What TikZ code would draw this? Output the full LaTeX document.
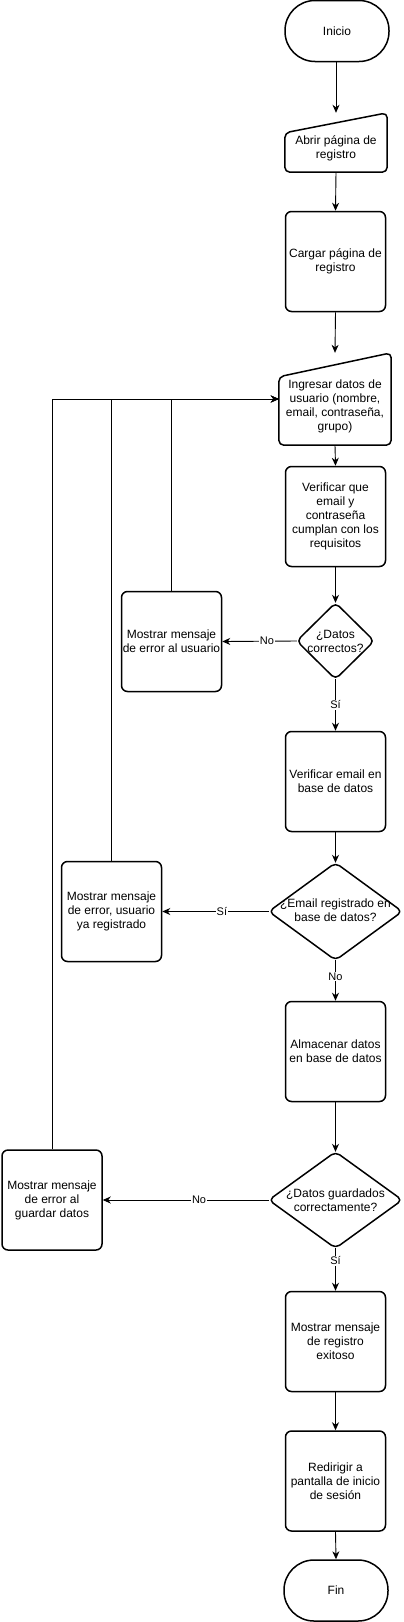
\documentclass[tikz,border=0pt]{standalone}
\usepackage{fontspec}
\setmainfont{Liberation Sans}
\usetikzlibrary{arrows.meta}
\begin{document}
\begin{tikzpicture}[x=1pt,y=-1pt,
  txt/.style={font=\fontsize{12}{14}\selectfont, align=center},
  box/.style={txt, draw, line width=1.5pt, rounded corners=6pt, minimum width=100pt, minimum height=100pt, inner sep=0pt},
  term/.style={txt, draw, line width=1.5pt, rounded corners=30pt, minimum width=104pt, minimum height=61pt, inner sep=0pt},
  holder/.style={txt, inner sep=0pt},
  shapeline/.style={line width=1.5pt, line join=round},
  arr/.style={line width=0.9pt, -{Stealth[length=8pt,width=7pt,inset=2.5pt]}},
  elabel/.style={font=\fontsize{11}{12}\selectfont, fill=white, inner sep=1pt}
]
\useasboundingbox (0,0) rectangle (404,1622);

% main column
\node[term] (ini) at (337,31) {Inicio};

\node[holder, minimum width=102pt, minimum height=59pt] (abrir) at (336,142.5) {};
\draw[shapeline, rounded corners=5pt] ([yshift=-20pt]abrir.north west) -- (abrir.north east) -- (abrir.south east) -- (abrir.south west) -- cycle;
\node[holder] (abrirT) at (336,148.5) {Abrir página de\\registro};

\node[box] (cargar) at (335.5,261.5) {Cargar página de\\registro};

\node[holder, minimum width=112pt, minimum height=92pt] (ing) at (335,399) {};
\draw[shapeline, rounded corners=5pt] ([yshift=-24pt]ing.north west) -- (ing.north east) -- (ing.south east) -- (ing.south west) -- cycle;
\node[holder] (ingT) at (335,406) {Ingresar datos de\\usuario (nombre,\\email, contraseña,\\grupo)};

\node[box] (verif) at (335.5,516.5) {Verificar que\\email y\\contraseña\\cumplan con los\\requisitos};

\node[holder, minimum width=77pt, minimum height=76pt] (d1) at (335.5,641) {};
\draw[shapeline, rounded corners=5pt] (d1.north) -- (d1.east) -- (d1.south) -- (d1.west) -- cycle;
\node[holder] (d1T) at (335.5,641) {¿Datos\\correctos?};

\node[box] (err1) at (171.5,641.5) {Mostrar mensaje\\de error al usuario};

\node[box] (vemail) at (335.5,781.5) {Verificar email en\\base de datos};

\node[holder, minimum width=133pt, minimum height=97pt] (d2) at (335.5,911.5) {};
\draw[shapeline, rounded corners=5pt] (d2.north) -- (d2.east) -- (d2.south) -- (d2.west) -- cycle;
\node[holder] (d2T) at (335.5,910.5) {¿Email registrado en\\base de datos?};

\node[box] (err2) at (111.5,911.5) {Mostrar mensaje\\de error, usuario\\ya registrado};

\node[box] (alm) at (335.5,1051.5) {Almacenar datos\\en base de datos};

\node[holder, minimum width=133pt, minimum height=96pt] (d3) at (335.5,1200) {};
\draw[shapeline, rounded corners=5pt] (d3.north) -- (d3.east) -- (d3.south) -- (d3.west) -- cycle;
\node[holder] (d3T) at (335.5,1200) {¿Datos guardados\\correctamente?};

\node[box] (err3) at (52,1200) {Mostrar mensaje\\de error al\\guardar datos};

\node[box] (exito) at (335.5,1341.5) {Mostrar mensaje\\de registro\\exitoso};

\node[box] (redir) at (335.5,1481) {Redirigir a\\pantalla de inicio\\de sesión};

\node[term] (fin) at (336,1590.5) {Fin};

% connectors
\draw[arr] (ini.south -| abrir.north) -- (abrir.north);
\draw[arr] (abrir.south) -- (cargar.north);
\draw[arr] (cargar.south) -- (ing.north);
\draw[arr] (ing.south) -- (verif.north);
\draw[arr] (verif.south) -- (d1.north);
\draw[arr] (d1.west) -- node[elabel, pos=0.4] {No} (err1.east);
\draw[arr] (d1.south) -- node[elabel, pos=0.5] {Sí} (vemail.north);
\draw[arr] (vemail.south) -- (d2.north);
\draw[arr] (d2.west) -- node[elabel, pos=0.44] {Sí} (err2.east);
\draw[arr] (d2.south) -- node[elabel, pos=0.4] {No} (alm.north);
\draw[arr] (alm.south) -- (d3.north);
\draw[arr] (d3.west) -- node[elabel, pos=0.42] {No} (err3.east);
\draw[arr] (d3.south) -- node[elabel, pos=0.3] {Sí} (exito.north);
\draw[arr] (exito.south) -- (redir.north);
\draw[arr] (redir.south) -- (fin.north);

% loops back
\draw[arr] (err3.north) |- (ing.west);
\draw[arr] (err2.north) |- (ing.west);
\draw[arr] (err1.north) |- (ing.west);
\end{tikzpicture}
\end{document}
